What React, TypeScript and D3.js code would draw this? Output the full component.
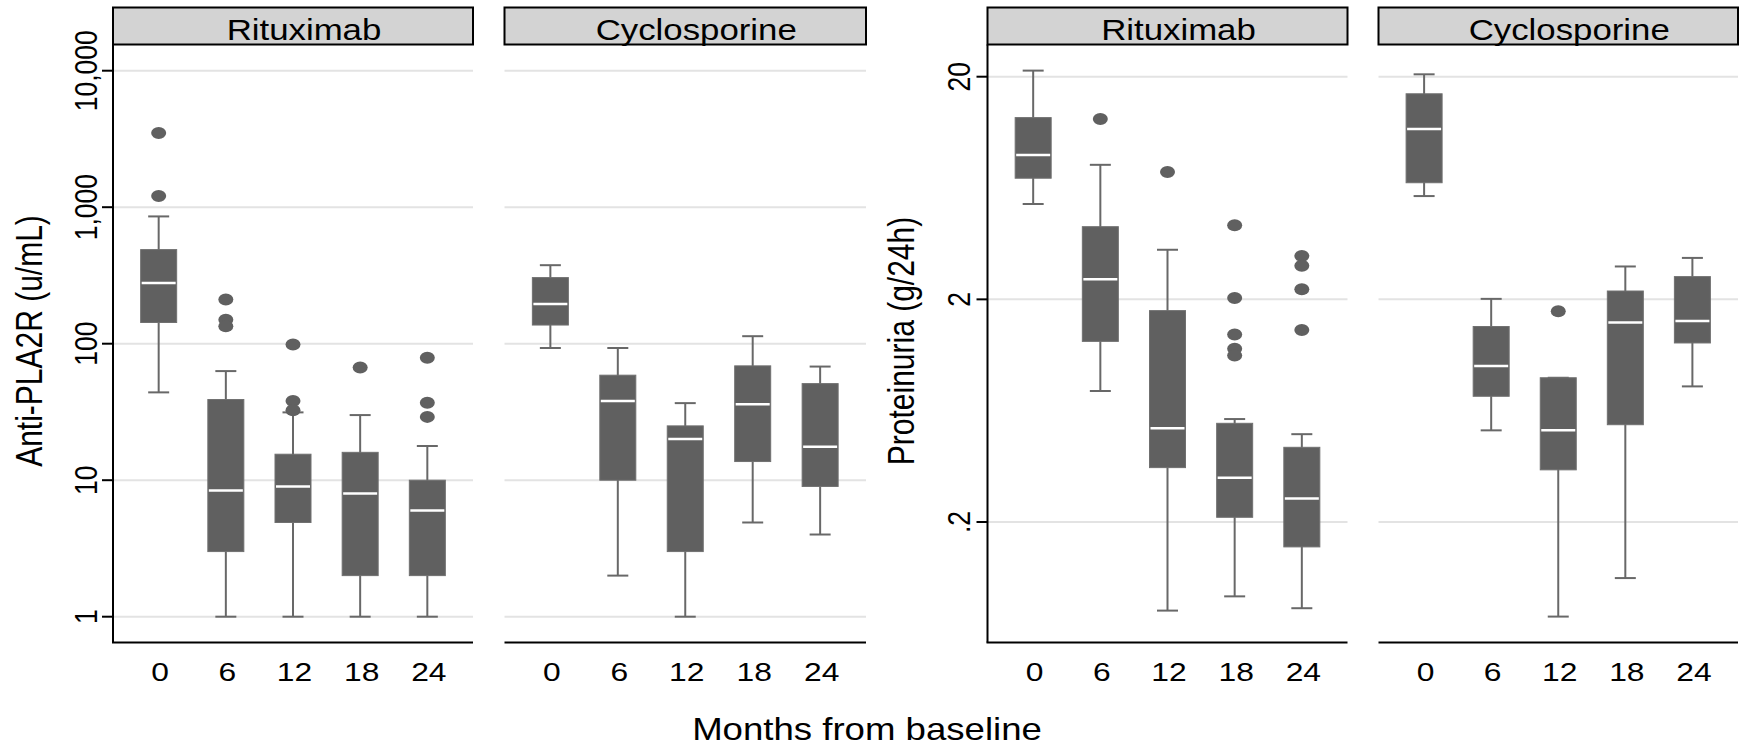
import React, { useEffect, useRef } from 'react';
import * as d3 from 'd3';

// x categories and panel labels
const months = ['0', '6', '12', '18', '24'];
const treatments = ['Rituximab', 'Cyclosporine'];

// each box: [lower whisker, q1, median, q3, upper whisker]
const pla2rRituximab = [[44, 143, 279, 489, 856], [1, 3, 8.4, 39, 63], [1, 4.9, 9, 15.5, 31.4], [1, 2, 8, 16, 30], [1, 2, 6, 10, 17.8]];
const pla2rRituximabOut = [[3494, 1208], [211, 150, 134], [98.6, 38.1, 32.6], [67], [79, 36.9, 29.1]];
const pla2rCyclosporine = [[93, 137, 195, 305, 376], [2, 10, 38, 58.8, 93], [1, 3, 20, 25, 36.7], [4.9, 13.7, 36, 68.8, 113.5], [4, 9, 17.6, 51, 68]];
const pla2rCyclosporineOut = [[], [], [], [], []];

const protRituximab = [[5.36, 7.0, 8.9, 13.1, 21.3], [0.775, 1.295, 2.46, 4.24, 8.04], [0.08, 0.351, 0.527, 1.78, 3.34], [0.0927, 0.21, 0.316, 0.555, 0.58], [0.082, 0.1546, 0.255, 0.433, 0.496]];
const protRituximabOut = [[], [12.9], [7.46], [4.3, 2.03, 1.39, 1.2, 1.12], [3.13, 2.83, 2.22, 1.455]];
const protCyclosporine = [[5.82, 6.68, 11.64, 16.76, 20.5], [0.516, 0.734, 1.003, 1.51, 2.01], [0.0752, 0.343, 0.516, 0.889, 0.889], [0.112, 0.547, 1.576, 2.18, 2.81], [0.813, 1.274, 1.6, 2.53, 3.07]];
const protCyclosporineOut = [[], [], [1.77], [], []];

// y ticks
const pla2rTicks = [1, 10, 100, 1000, 10000];
const pla2rTickLabels = ['1', '10', '100', '1,000', '10,000'];
const protTicks = [0.2, 2, 20];
const protTickLabels = ['.2', '2', '20'];

const W = 1739;
const H = 749;
const SX = 1.2; // the source picture is stretched horizontally
const FONT = '"Liberation Sans", Arial, sans-serif';
const BOX = '#606060';
const WHISK = '#686868';

const App = () => {
  const ref = useRef<SVGSVGElement | null>(null);

  useEffect(() => {
    const svg = d3.select(ref.current);
    svg.selectAll('*').remove();

    const stripTop = 7.5;
    const stripBot = 44.5;
    const plotBot = 642.5;

    const yPla2r = d3.scaleLog().domain([1, 10000]).range([616.7, 70.7]);
    const yProt = d3.scaleLog().domain([0.2, 20]).range([522, 76.7]);

    const panels = [
      { x0: 113, x1: 473, y: yPla2r, boxes: pla2rRituximab, out: pla2rRituximabOut, label: treatments[0], axis: true, ticks: pla2rTicks, tickLabels: pla2rTickLabels, tickX: 97, title: 'Anti-PLA2R  (u/mL)', titleX: 42 },
      { x0: 504.5, x1: 866, y: yPla2r, boxes: pla2rCyclosporine, out: pla2rCyclosporineOut, label: treatments[1], axis: false, ticks: pla2rTicks },
      { x0: 987.5, x1: 1347.5, y: yProt, boxes: protRituximab, out: protRituximabOut, label: treatments[0], axis: true, ticks: protTicks, tickLabels: protTickLabels, tickX: 970, title: 'Proteinuria  (g/24h)', titleX: 914 },
      { x0: 1378.5, x1: 1738, y: yProt, boxes: protCyclosporine, out: protCyclosporineOut, label: treatments[1], axis: false, ticks: protTicks },
    ];

    panels.forEach(p => {
      const g = svg.append('g');
      const x = d3.scalePoint().domain(months).range([p.x0, p.x1]).padding(0.68);
      const y = p.y;

      // gridlines
      g.selectAll('.grid')
        .data(p.ticks)
        .enter().append('line')
        .attr('x1', p.x0).attr('x2', p.x1)
        .attr('y1', d => y(d)).attr('y2', d => y(d))
        .attr('stroke', '#e3e3e3')
        .attr('stroke-width', 2);

      // strip
      g.append('rect')
        .attr('x', p.x0).attr('y', stripTop)
        .attr('width', p.x1 - p.x0).attr('height', stripBot - stripTop)
        .attr('fill', '#d3d3d3')
        .attr('stroke', '#000')
        .attr('stroke-width', 2);
      g.append('text')
        .attr('transform', `translate(${(p.x0 + p.x1) / 2 + 11},39.5) scale(${SX},1)`)
        .attr('text-anchor', 'middle')
        .attr('font-family', FONT)
        .attr('font-size', 29)
        .attr('fill', '#000')
        .text(p.label);

      // axes
      g.append('line')
        .attr('x1', p.x0 - (p.axis ? 1 : 0)).attr('x2', p.x1)
        .attr('y1', plotBot).attr('y2', plotBot)
        .attr('stroke', '#000').attr('stroke-width', 2);
      if (p.axis) {
        g.append('line')
          .attr('x1', p.x0).attr('x2', p.x0)
          .attr('y1', stripBot).attr('y2', plotBot)
          .attr('stroke', '#000').attr('stroke-width', 2);
        g.selectAll('.ytick')
          .data(p.ticks)
          .enter().append('line')
          .attr('x1', p.x0 - 11).attr('x2', p.x0)
          .attr('y1', d => y(d)).attr('y2', d => y(d))
          .attr('stroke', '#000').attr('stroke-width', 2);
        g.selectAll('.ylab')
          .data(p.ticks)
          .enter().append('text')
          .attr('transform', (d, i) => `translate(${p.tickX},${y(d)}) scale(${SX},1) rotate(-90)`)
          .attr('text-anchor', 'middle')
          .attr('font-family', FONT)
          .attr('font-size', 26.5)
          .text((d, i) => p.tickLabels[i]);
        g.append('text')
          .attr('transform', `translate(${p.titleX},341) scale(${SX},1) rotate(-90)`)
          .attr('text-anchor', 'middle')
          .attr('font-family', FONT)
          .attr('font-size', 30)
          .text(p.title);
      }

      // x tick labels
      g.selectAll('.xlab')
        .data(months)
        .enter().append('text')
        .attr('transform', d => `translate(${x(d) + 1.5},681) scale(${SX},1)`)
        .attr('text-anchor', 'middle')
        .attr('font-family', FONT)
        .attr('font-size', 26.5)
        .text(d => d);

      // boxes
      const boxW = 36;
      const capW = 21;
      const grp = g.selectAll('.box')
        .data(p.boxes.map((b, i) => ({ m: months[i], b, out: p.out[i] })))
        .enter().append('g')
        .attr('transform', d => `translate(${x(d.m)},0)`);

      grp.append('line')
        .attr('x1', 0).attr('x2', 0)
        .attr('y1', d => y(d.b[0])).attr('y2', d => y(d.b[4]))
        .attr('stroke', WHISK).attr('stroke-width', 2);
      grp.append('line')
        .attr('x1', -capW / 2).attr('x2', capW / 2)
        .attr('y1', d => y(d.b[0])).attr('y2', d => y(d.b[0]))
        .attr('stroke', WHISK).attr('stroke-width', 2);
      grp.append('line')
        .attr('x1', -capW / 2).attr('x2', capW / 2)
        .attr('y1', d => y(d.b[4])).attr('y2', d => y(d.b[4]))
        .attr('stroke', WHISK).attr('stroke-width', 2);
      grp.append('rect')
        .attr('x', -boxW / 2)
        .attr('y', d => y(d.b[3]))
        .attr('width', boxW)
        .attr('height', d => y(d.b[1]) - y(d.b[3]))
        .attr('fill', BOX)
        .attr('stroke', '#707070')
        .attr('stroke-width', 1);
      grp.append('line')
        .attr('x1', -boxW / 2 + 1).attr('x2', boxW / 2 - 1)
        .attr('y1', d => y(d.b[2])).attr('y2', d => y(d.b[2]))
        .attr('stroke', '#fff').attr('stroke-width', 2.5);
      grp.selectAll('ellipse')
        .data(d => d.out)
        .enter().append('ellipse')
        .attr('cx', 0)
        .attr('cy', d => y(d))
        .attr('rx', 7.5)
        .attr('ry', 6)
        .attr('fill', BOX);
    });

    // shared x title
    svg.append('text')
      .attr('transform', `translate(867,740) scale(${SX},1)`)
      .attr('text-anchor', 'middle')
      .attr('font-family', FONT)
      .attr('font-size', 30.5)
      .text('Months from baseline');
  }, []);

  return (
    <svg
      ref={ref}
      width={W}
      height={H}
      style={{ position: 'absolute', left: 0, top: 0, background: '#fff' }}
    />
  );
};

export default App;
